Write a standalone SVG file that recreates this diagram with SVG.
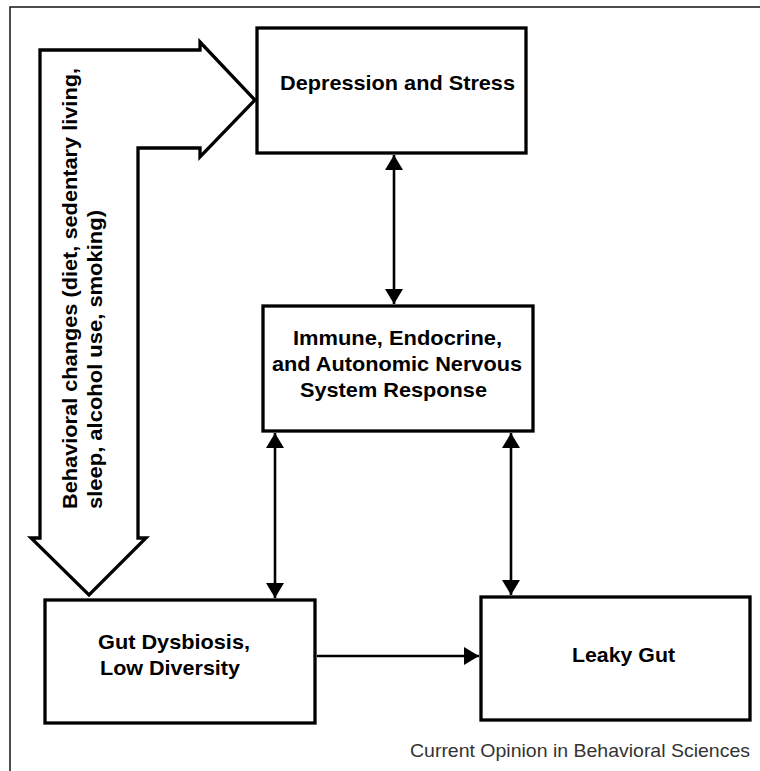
<svg xmlns="http://www.w3.org/2000/svg" width="760" height="771" viewBox="0 0 760 771">
<style>
.box{fill:#fff;stroke:#000;stroke-width:3.3}
.lbl{font-family:"Liberation Sans",Arial,Helvetica,sans-serif;font-weight:bold;font-size:21px;fill:#000}
.conn{stroke:#000;stroke-width:2.6;fill:none}
.cap{font-family:"Liberation Sans",Arial,Helvetica,sans-serif;font-size:18.5px;fill:#333}
</style>
<defs>
<marker id="ah" viewBox="0 0 15 18" refX="15" refY="9" markerWidth="15" markerHeight="18" markerUnits="userSpaceOnUse" orient="auto-start-reverse">
<path d="M0,0 L15,9 L0,18 Z" fill="#000"/>
</marker>
</defs>
<rect x="0" y="0" width="760" height="771" fill="#fff"/>
<rect x="10" y="7" width="770" height="790" fill="none" stroke="#222" stroke-width="1.6"/>

<g id="behavior-arrow">
<path d="M255,100 L200,42 L200,50 L40,50 L40,538 L31,538 L89,595 L146,538 L138,538 L138,148 L200,148 L200,157 Z" fill="#fff" stroke="#000" stroke-width="3.3" stroke-linejoin="miter"/>
<text class="lbl" transform="translate(77,509) rotate(-90)" textLength="441" lengthAdjust="spacingAndGlyphs">Behavioral changes (diet, sedentary living,</text>
<text class="lbl" transform="translate(102,509) rotate(-90)" textLength="299" lengthAdjust="spacingAndGlyphs">sleep, alcohol use, smoking)</text>
</g>

<g id="depression">
<rect class="box" x="257" y="28" width="269" height="125"/>
<text class="lbl" x="280" y="90" textLength="235" lengthAdjust="spacingAndGlyphs">Depression and Stress</text>
</g>

<g id="immune">
<rect class="box" x="263" y="306" width="270" height="125"/>
<text class="lbl" x="397.5" y="345" text-anchor="middle" textLength="209" lengthAdjust="spacingAndGlyphs">Immune, Endocrine,</text>
<text class="lbl" x="397" y="371" text-anchor="middle" textLength="250" lengthAdjust="spacingAndGlyphs">and Autonomic Nervous</text>
<text class="lbl" x="393.5" y="397" text-anchor="middle" textLength="187" lengthAdjust="spacingAndGlyphs">System Response</text>
</g>

<g id="gut">
<rect class="box" x="45" y="600" width="270" height="123"/>
<text class="lbl" x="98" y="649" textLength="152" lengthAdjust="spacingAndGlyphs">Gut Dysbiosis,</text>
<text class="lbl" x="100" y="675" textLength="140" lengthAdjust="spacingAndGlyphs">Low Diversity</text>
</g>

<g id="leaky">
<rect class="box" x="481" y="597" width="269" height="123"/>
<text class="lbl" x="572" y="662" textLength="103" lengthAdjust="spacingAndGlyphs">Leaky Gut</text>
</g>

<g id="connectors">
<line class="conn" x1="394" y1="155" x2="394" y2="304" marker-start="url(#ah)" marker-end="url(#ah)"/>
<line class="conn" x1="275" y1="433" x2="275" y2="598" marker-start="url(#ah)" marker-end="url(#ah)"/>
<line class="conn" x1="511" y1="433" x2="511" y2="595" marker-start="url(#ah)" marker-end="url(#ah)"/>
<line class="conn" x1="317" y1="656" x2="479" y2="656" marker-end="url(#ah)"/>
</g>

<text class="cap" x="750" y="757" text-anchor="end" textLength="340" lengthAdjust="spacingAndGlyphs">Current Opinion in Behavioral Sciences</text>
</svg>
